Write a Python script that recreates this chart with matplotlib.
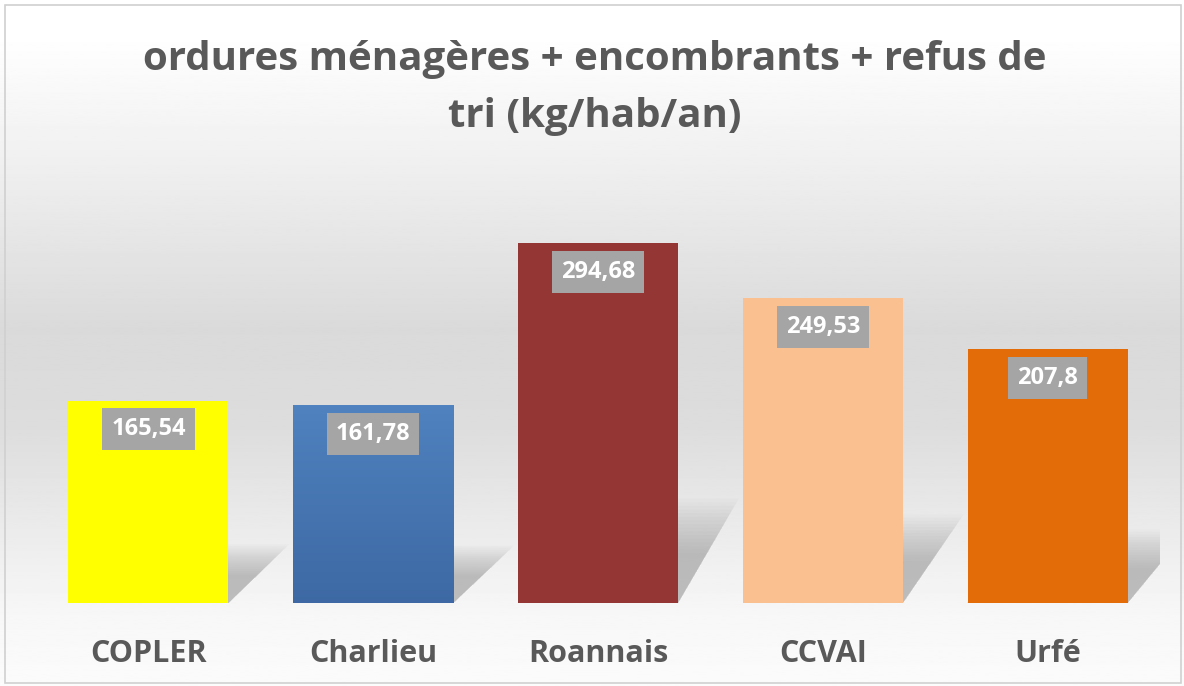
import numpy as np
import matplotlib.pyplot as plt
from matplotlib.patches import Polygon, Rectangle

categories = ['COPLER', 'Charlieu', 'Roannais', 'CCVAI', 'Urfé']
values = [165.54, 161.78, 294.68, 249.53, 207.8]
value_labels = ['165,54', '161,78', '294,68', '249,53', '207,8']
colors = ['#ffff00', '#4676b4', '#943634', '#fac090', '#e36c09']
title = 'ordures ménagères + encombrants + refus de\ntri (kg/hab/an)'

W, H = 1184, 686
fig = plt.figure(figsize=(W / 100, H / 100), dpi=100)

# background gradient (white - grey - white)
bg = fig.add_axes([0, 0, 1, 1], zorder=0)
ys = np.linspace(0, 1, 400)
stops_y = [0.0, 0.05, 0.25, 0.48, 0.62, 0.78, 0.90, 1.0]
stops_v = [1.0, 1.0, 0.935, 0.855, 0.865, 0.925, 0.97, 0.985]
grad = np.interp(ys, stops_y, stops_v)
bg.imshow(grad[:, None], aspect='auto', cmap='gray', vmin=0, vmax=1,
          extent=[0, 1, 1, 0])
bg.set_xlim(0, 1)
bg.set_ylim(1, 0)
bg.axis('off')
bg.add_patch(Rectangle((5 / W, 5 / H), (W - 8) / W, (H - 8) / H,
                       fill=False, ec='#d0d0d0', lw=1.2))

# plot area: x 36..1160 px, baseline at y=603 px, ylim 0..350
top_px = 603 - 350 * 1.2217
ax = fig.add_axes([36 / W, (H - 603) / H, 1124 / W, (603 - top_px) / H], zorder=1)
ax.patch.set_alpha(0)
x = np.arange(len(categories))
bw = 0.712
ax.set_xlim(-0.5, len(categories) - 0.5)
ax.set_ylim(0, 350)

# perspective shadows (soft)
for xi, v in zip(x, values):
    h = 0.29 * v
    dx = 0.27
    for k in range(16):
        s = 1 - k * 0.035
        poly = Polygon([(xi - bw / 2, 0), (xi + bw / 2, 0),
                        (xi + bw / 2 + dx * s, h * s), (xi - bw / 2 + dx * s, h * s)],
                       closed=True, fc='#909090', ec='none', alpha=0.045, zorder=1)
        ax.add_patch(poly)

bars = ax.bar(x, values, width=bw, color=colors, zorder=3)

# slight vertical gradient on the blue bar
b = bars[1]
gx0 = b.get_x()
blue = np.linspace(0, 1, 200)[:, None]
top_c = np.array([0.31, 0.51, 0.75])
bot_c = np.array([0.24, 0.41, 0.64])
img = (bot_c[None, None, :] * (1 - blue[..., None]) + top_c[None, None, :] * blue[..., None])
im = ax.imshow(img, extent=[gx0, gx0 + b.get_width(), 0, b.get_height()],
               origin='lower', aspect='auto', zorder=3.5)
im.set_clip_path(b)
ax.set_xlim(-0.5, len(categories) - 0.5)
ax.set_ylim(0, 350)

for xi, v, lab in zip(x, values, value_labels):
    ax.annotate(lab, (xi, v), xytext=(0, -12), textcoords='offset points',
                ha='center', va='top', color='white', fontsize=17,
                fontweight='bold', family='Open Sans', zorder=4,
                bbox=dict(boxstyle='square,pad=0.38', fc='#a5a5a5', ec='none'))

ax.set_xticks(x)
ax.set_xticklabels(categories, fontsize=22, fontweight='bold',
                   color='#595959', family='Open Sans')
ax.tick_params(axis='x', length=0, pad=26)
ax.set_yticks([])
for sp in ax.spines.values():
    sp.set_visible(False)

fig.text(0.502, 1 - 88 / H, title, ha='center', va='center', fontsize=29,
         fontweight='bold', color='#595959', family='Open Sans',
         linespacing=1.6)

fig.savefig('out.png', dpi=100)
